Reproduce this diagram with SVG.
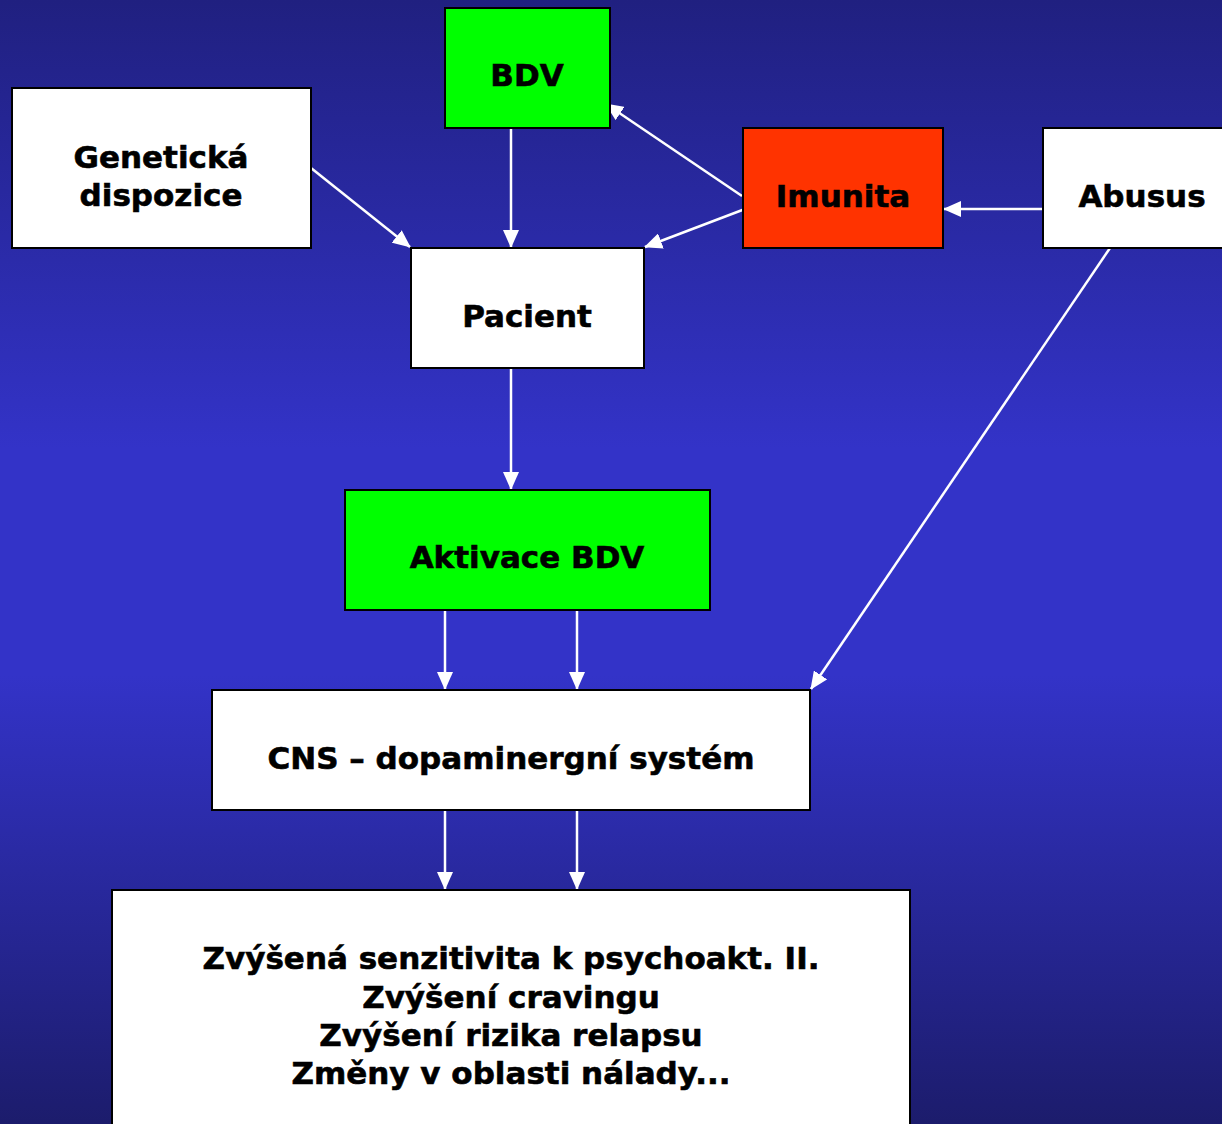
<svg xmlns="http://www.w3.org/2000/svg" width="1222" height="1124" viewBox="0 0 1222 1124">
<defs>
<linearGradient id="bg" x1="0" y1="0" x2="0" y2="1">
<stop offset="0" stop-color="#202080"/>
<stop offset="0.4" stop-color="#3333c8"/>
<stop offset="0.6" stop-color="#3333c8"/>
<stop offset="1" stop-color="#1c1c6c"/>
</linearGradient>
<marker id="ah" markerUnits="userSpaceOnUse" markerWidth="18" markerHeight="16" refX="17" refY="8" orient="auto">
<path d="M0,0 L18,8 L0,16 Z" fill="#ffffff"/>
</marker>
<style>
.box{stroke:#000;stroke-width:2}
.w{fill:#ffffff}
.g{fill:#00ff00}
.r{fill:#ff3300}
.t{font-family:"DejaVu Sans","Liberation Sans",sans-serif;font-weight:bold;font-size:31px;fill:#000;stroke:#000;stroke-width:0.6;text-anchor:middle}
.c{stroke:#ffffff;stroke-width:2.5;fill:none;marker-end:url(#ah)}
</style>
</defs>
<rect x="0" y="0" width="1222" height="1124" fill="url(#bg)"/>
<g id="connectors">
<line class="c" x1="311" y1="168" x2="410" y2="247"/>
<line class="c" x1="511" y1="128" x2="511" y2="247"/>
<line class="c" x1="742" y1="196" x2="606" y2="104"/>
<line class="c" x1="745" y1="209" x2="645" y2="247"/>
<line class="c" x1="1043" y1="209" x2="944" y2="209"/>
<line class="c" x1="1110" y1="248" x2="811" y2="689"/>
<line class="c" x1="511" y1="368" x2="511" y2="489"/>
<line class="c" x1="445" y1="610" x2="445" y2="689"/>
<line class="c" x1="577" y1="610" x2="577" y2="689"/>
<line class="c" x1="445" y1="810" x2="445" y2="889"/>
<line class="c" x1="577" y1="810" x2="577" y2="889"/>
</g>
<g id="bdv">
<rect class="box g" x="445" y="8" width="165" height="120"/>
<text class="t" x="527" y="86">BDV</text>
</g>
<g id="geneticka">
<rect class="box w" x="12" y="88" width="299" height="160"/>
<text class="t" x="161" y="168">Genetická</text>
<text class="t" x="161" y="206">dispozice</text>
</g>
<g id="imunita">
<rect class="box r" x="743" y="128" width="200" height="120"/>
<text class="t" x="843" y="207">Imunita</text>
</g>
<g id="abusus">
<rect class="box w" x="1043" y="128" width="190" height="120"/>
<text class="t" x="1142" y="207">Abusus</text>
</g>
<g id="pacient">
<rect class="box w" x="411" y="248" width="233" height="120"/>
<text class="t" x="527" y="327">Pacient</text>
</g>
<g id="aktivace">
<rect class="box g" x="345" y="490" width="365" height="120"/>
<text class="t" x="527" y="568">Aktivace BDV</text>
</g>
<g id="cns">
<rect class="box w" x="212" y="690" width="598" height="120"/>
<text class="t" x="511" y="769">CNS – dopaminergní systém</text>
</g>
<g id="nasledky">
<rect class="box w" x="112" y="890" width="798" height="250"/>
<text class="t" x="511" y="969">Zvýšená senzitivita k psychoakt. II.</text>
<text class="t" x="511" y="1008">Zvýšení cravingu</text>
<text class="t" x="511" y="1046">Zvýšení rizika relapsu</text>
<text class="t" x="511" y="1084">Změny v oblasti nálady...</text>
</g>
</svg>
